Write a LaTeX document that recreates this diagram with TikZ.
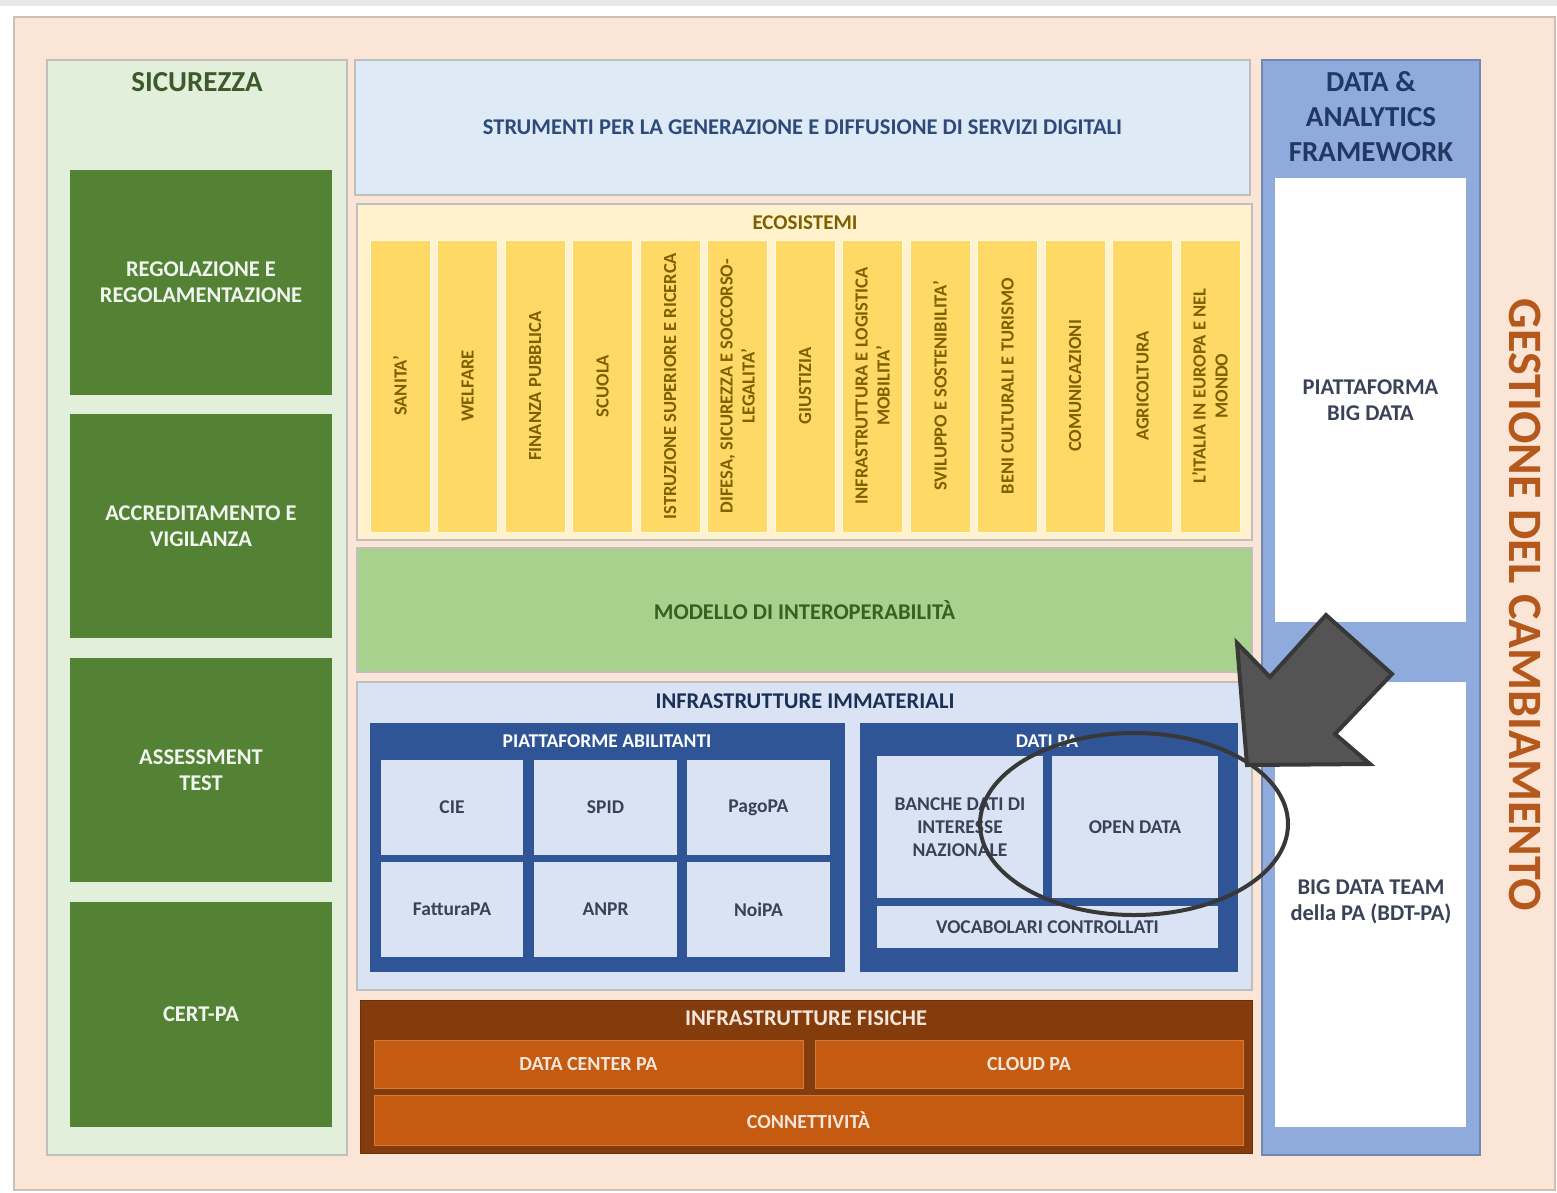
\documentclass[tikz,border=0pt]{standalone}
\usepackage{fontspec}
\setmainfont{Carlito}
\usetikzlibrary{shapes.geometric}
\definecolor{peach}{HTML}{FBE5D6}
\definecolor{peachline}{HTML}{CDBFB5}
\definecolor{ltgreen}{HTML}{E2EFDA}
\definecolor{dkgreen}{HTML}{548235}
\definecolor{dkgreentxt}{HTML}{3E5A2C}
\definecolor{ltblue}{HTML}{DEEBF7}
\definecolor{strtxt}{HTML}{2E4A7A}
\definecolor{ltyellow}{HTML}{FFF2CC}
\definecolor{yellowcol}{HTML}{FFD966}
\definecolor{ecotxt}{HTML}{7F6000}
\definecolor{midgreen}{HTML}{A9D18E}
\definecolor{modtxt}{HTML}{3B5E22}
\definecolor{immat}{HTML}{DAE3F3}
\definecolor{navy}{HTML}{203864}
\definecolor{royal}{HTML}{2F5597}
\definecolor{celltxt}{HTML}{3A4257}
\definecolor{brown}{HTML}{843C0C}
\definecolor{orangebox}{HTML}{C55A11}
\definecolor{paletxt}{HTML}{F4E6DA}
\definecolor{dafblue}{HTML}{8FAADC}
\definecolor{gestxt}{HTML}{B5581C}
\definecolor{arrowfill}{HTML}{545454}
\definecolor{arrowline}{HTML}{383838}
\newcommand\Bx[7]{\node[#6, minimum width={(#4-#2)*1pt}, minimum height={(#5-#3)*1pt}] (#1) at ({(#2+#4)/2},{(#3+#5)/2}) {#7};}
\newcommand\fs[2]{\fontsize{#1}{#2}\selectfont\bfseries}
\begin{document}
\begin{tikzpicture}[x=1pt,y=-1pt,
  every node/.style={inner sep=0pt, outer sep=0pt, align=center},
  panel/.style={rectangle, draw=#1, line width=1.5pt},
  panel/.default=gray!50,
  greenbox/.style={rectangle, fill=dkgreen, text=white!92!dkgreen, font=\fs{22.5}{26}},
  ecocol/.style={rectangle, fill=yellowcol, draw=white!85!yellowcol, line width=1pt},
  ecotext/.style={rotate=90, text=ecotxt, font=\fs{18.5}{22}},
  cell/.style={rectangle, fill=immat, text=celltxt, font=\fs{19.5}{23}},
  orbox/.style={rectangle, fill=orangebox, draw=orangebox!80!white, line width=1pt, text=paletxt, font=\fs{20}{22}},
  wbox/.style={rectangle, fill=white, text=celltxt, font=\fs{22.5}{26}}]
\useasboundingbox (0,0) rectangle (1557,1192);
\fill[white] (0,0) rectangle (1557,1192);
\fill[gray!18] (0,0) rectangle (1557,6);
% outer frame
\Bx{outer}{14}{17}{1555}{1190}{panel=peachline, fill=peach}{}
% SICUREZZA
\Bx{sic}{47}{60}{347}{1155}{panel, fill=ltgreen}{}
\node[text=dkgreentxt, font=\fs{29}{32}] (sictitle) at (197,82) {SICUREZZA};
\Bx{reg}{70}{170}{332}{395}{greenbox}{REGOLAZIONE E\\REGOLAMENTAZIONE}
\Bx{acc}{70}{414}{332}{638}{greenbox}{ACCREDITAMENTO E\\VIGILANZA}
\Bx{ass}{70}{658}{332}{882}{greenbox}{ASSESSMENT\\TEST}
\Bx{cert}{70}{902}{332}{1127}{greenbox}{CERT-PA}
% STRUMENTI
\Bx{strum}{355}{60}{1250}{195}{panel, fill=ltblue, text=strtxt, font=\fs{22.5}{26}}{STRUMENTI PER LA GENERAZIONE E DIFFUSIONE DI SERVIZI DIGITALI}
% ECOSISTEMI
\Bx{eco}{357}{204}{1252}{540}{panel, fill=ltyellow}{}
\node[text=ecotxt, font=\fs{21}{24}] (ecotitle) at (805,223) {ECOSISTEMI};
\foreach \lab [count=\i from 0] in {%
  {SANITA'},{WELFARE},{FINANZA PUBBLICA},{SCUOLA},{ISTRUZIONE SUPERIORE E RICERCA},%
  {DIFESA, SICUREZZA E SOCCORSO-\\LEGALITA'},{GIUSTIZIA},{INFRASTRUTTURA E LOGISTICA\\MOBILITA'},%
  {SVILUPPO E SOSTENIBILITA'},{BENI CULTURALI E TURISMO},{COMUNICAZIONI},{AGRICOLTURA},%
  {L'ITALIA IN EUROPA E NEL\\MONDO}} {
  \pgfmathsetmacro\xa{370+67.5*\i}
  \pgfmathsetmacro\xb{\xa+60}
  \Bx{col\i}{\xa}{240}{\xb}{532}{ecocol}{}
  \node[ecotext] (collab\i) at (col\i.center) {\lab};
}
% MODELLO
\Bx{mod}{357}{548}{1252}{672}{panel, fill=midgreen, text=modtxt, font=\fs{22.5}{26}}{MODELLO DI INTEROPERABILITÀ}
% INFRASTRUTTURE IMMATERIALI
\Bx{imm}{357}{682}{1252}{990}{panel, fill=immat}{}
\node[text=navy!85!black, font=\fs{22.5}{26}] (immtitle) at (805,701) {INFRASTRUTTURE IMMATERIALI};
\Bx{piat}{370}{723}{845}{972}{rectangle, fill=royal}{}
\node[text=white, font=\fs{19.5}{22}] (piattitle) at (607,741) {PIATTAFORME ABILITANTI};
\Bx{cie}{381}{760}{523}{855}{cell}{CIE}
\Bx{spid}{534}{760}{677}{855}{cell}{SPID}
\Bx{pago}{687}{760}{830}{855}{cell}{PagoPA}
\Bx{fatt}{381}{862}{523}{957}{cell}{FatturaPA}
\Bx{anpr}{534}{862}{677}{957}{cell}{ANPR}
\Bx{noipa}{687}{862}{830}{957}{cell}{NoiPA}
\Bx{dati}{860}{723}{1238}{972}{rectangle, fill=royal}{}
\node[text=white, font=\fs{19.5}{22}] (datititle) at (1047,741) {DATI PA};
\Bx{banche}{877}{756}{1043}{898}{cell}{BANCHE DATI DI\\INTERESSE\\NAZIONALE}
\Bx{open}{1052}{756}{1218}{898}{cell}{OPEN DATA}
\Bx{voc}{877}{906}{1218}{948}{cell}{VOCABOLARI CONTROLLATI}
% INFRASTRUTTURE FISICHE
\Bx{fis}{360}{1000}{1252}{1153}{rectangle, fill=brown, draw=brown!80!black, line width=1pt}{}
\node[text=paletxt, font=\fs{22.5}{24}] (fistitle) at (806,1018) {INFRASTRUTTURE FISICHE};
\Bx{dc}{374}{1040}{803}{1088}{orbox}{DATA CENTER PA}
\Bx{cloud}{815}{1040}{1243}{1088}{orbox}{CLOUD PA}
\Bx{conn}{374}{1095}{1243}{1145}{orbox}{CONNETTIVITÀ}
% DATA & ANALYTICS
\Bx{daf}{1262}{60}{1480}{1155}{panel=dafblue!80!black, fill=dafblue}{}
\node[text=navy, font=\fs{29}{35}] (daftitle) at (1371,117) {DATA \&\\ANALYTICS\\FRAMEWORK};
\Bx{bigdata}{1275}{178}{1466}{622}{wbox}{PIATTAFORMA\\BIG DATA}
\Bx{bdt}{1275}{682}{1466}{1127}{wbox}{}
\node[text=celltxt, font=\fs{22.5}{26}] (bdtlab) at (1371,902) {BIG DATA TEAM\\della PA (BDT-PA)};
% GESTIONE
\node[rotate=-90, text=gestxt, font=\fs{48}{52}] (gest) at (1525,605) {GESTIONE DEL CAMBIAMENTO};
% highlight ellipse and arrow
\node[ellipse, draw=arrowline, line width=4pt, minimum width=308pt, minimum height=182pt] (ring) at (1134,824) {};
\draw[fill=arrowfill, draw=arrowline, line width=4pt, line join=miter]
  (1237,643) -- (1270,677) -- (1326,615) -- (1392,674) -- (1335,734) -- (1370,764) -- (1247,765) -- cycle;
\end{tikzpicture}
\end{document}
